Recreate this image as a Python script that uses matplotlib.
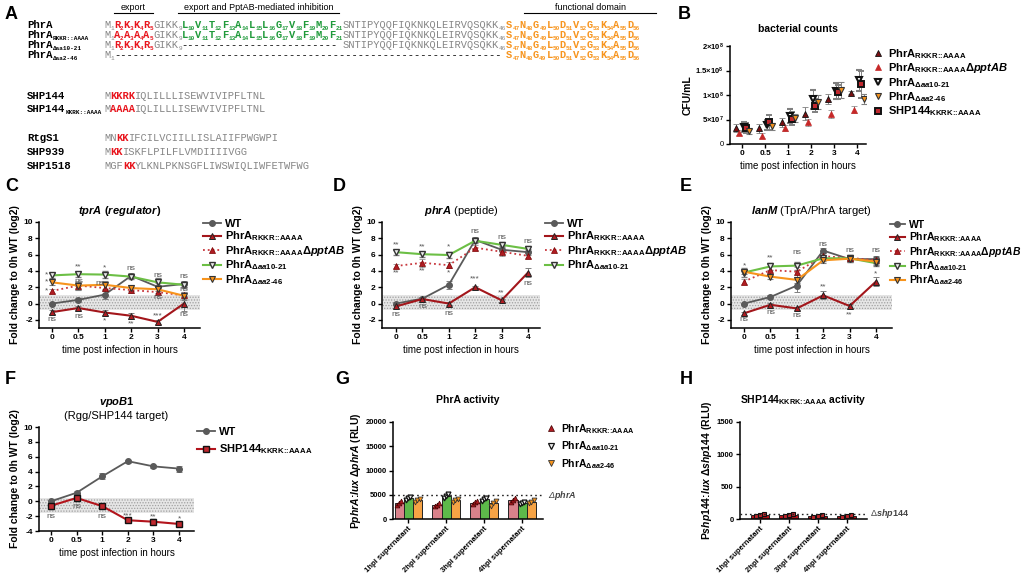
import numpy as np
import matplotlib.pyplot as plt
from matplotlib.lines import Line2D

plt.rcParams['font.family'] = ['Liberation Sans', 'DejaVu Sans']
plt.rcParams['mathtext.fontset'] = 'custom'
plt.rcParams['mathtext.rm'] = 'Liberation Sans:bold'
plt.rcParams['mathtext.it'] = 'Liberation Sans:italic:bold'
plt.rcParams['mathtext.bf'] = 'Liberation Sans:bold'
plt.rcParams['hatch.linewidth'] = 0.6

W, H = 1022, 576

# ---------------- data ----------------
# panel A sequences
phrA_export = 'RKKR'
phrA_export_mut = 'AAAA'
phrA_inhib = 'LVTFALLGVFMF'
phrA_mid = 'SNTIPYQQFIQKNKQLEIRVQSQKK'
phrA_func = 'SNGLDVGKAD'
shp_names = ['SHP144', 'SHP144', 'RtgS1', 'SHP939', 'SHP1518']
shp_subs = ['', 'KKRK::AAAA', '', '', '']
shp_pre = ['M', 'M', 'MN', 'M', 'MGF']
shp_motif = ['KKRK', 'AAAA', 'KK', 'KK', 'KK']
shp_rest = ['IQLILLLISEWVIVIPFLTNL', 'IQLILLLISEWVIVIPFLTNL',
            'IFCILVCIILLISLAIIFPWGWPI', 'ISKFLPILFLVMDIIIIVGG',
            'YLKNLPKNSGFLIWSWIQLIWFETWFWG']

times = ['0', '0.5', '1', '2', '3', '4']

# B bacterial counts (CFU/mL)
cfu_rkkr = [3.2e7, 3.2e7, 4.4e7, 6.2e7, 9.2e7, 1.05e8]
cfu_ppt = [2.3e7, 1.7e7, 3.2e7, 4.4e7, 6.1e7, 7.0e7]
cfu_d1021 = [3.4e7, 3.9e7, 5.7e7, 9.1e7, 1.08e8, 1.3e8]
cfu_d246 = [2.6e7, 3.6e7, 5.3e7, 8.6e7, 1.1e8, 9.2e7]
cfu_shp = [3.2e7, 4.4e7, 5.2e7, 7.8e7, 1.06e8, 1.22e8]
cfu_rkkr_err = [0.8e7, 0.9e7, 0.9e7, 1.3e7, 1.0e7, 0.3e7]
cfu_ppt_err = [0.5e7, 0.5e7, 0.6e7, 0.8e7, 0.8e7, 0.7e7]
cfu_d1021_err = [1.0e7, 1.1e7, 1.5e7, 1.9e7, 1.6e7, 2.2e7]
cfu_d246_err = [0.5e7, 0.7e7, 0.8e7, 1.5e7, 1.7e7, 1.0e7]
cfu_shp_err = [1.0e7, 1.6e7, 1.3e7, 1.3e7, 1.4e7, 2.8e7]

# C tprA
tprA_wt = [0.0, 0.45, 1.1, 3.4, 2.05, 2.4]
tprA_rkkr = [-1.05, -0.55, -1.1, -1.5, -2.25, 0.0]
tprA_ppt = [1.55, 2.2, 1.9, 1.65, 1.4, 1.0]
tprA_d1021 = [3.45, 3.6, 3.55, 3.3, 2.6, 2.3]
tprA_d246 = [2.6, 2.2, 2.3, 1.9, 1.75, 0.95]
tprA_wt_err = [0.1, 0.2, 0.6, 0.3, 0.5, 0.4]
tprA_rkkr_err = [0.2, 0.2, 0.3, 0.4, 0.2, 0.9]
tprA_ppt_err = [0.2, 0.6, 0.4, 0.4, 0.4, 0.4]
tprA_d1021_err = [0.3, 0.3, 0.4, 0.3, 0.5, 0.4]
tprA_d246_err = [0.3, 0.5, 0.5, 0.4, 0.5, 0.5]
tprA_marks = [(-0.22, 3.55, '*'), (-0.22, 2.6, '*'), (-0.22, 1.55, '*'), (0, -2.0, 'ns'),
              (1, 4.45, '**'), (1, 2.75, 'ns'), (1, -1.6, 'ns'),
              (2, 4.35, '*'), (1.8, 2.4, 'ns'), (2, -2.1, '*'),
              (3, 4.25, 'ns'), (3, -2.55, '**'),
              (4, 3.45, 'ns'), (4, 0.7, 'ns'), (4, -1.5, '***'),
              (5, 3.3, 'ns'), (5, 1.7, 'ns'), (5, -1.35, 'ns')]

# D phrA
phrA_wt = [0.0, 0.6, 2.3, 7.8, 6.6, 6.3]
phrA_rkkr = [-0.35, 0.55, 0.0, 2.0, 0.4, 3.8]
phrA_ppt = [4.6, 5.0, 4.7, 6.85, 6.35, 5.85]
phrA_d1021 = [6.3, 6.05, 5.95, 7.7, 7.2, 6.7]
phrA_wt_err = [0.2, 0.2, 0.5, 0.3, 0.5, 0.4]
phrA_rkkr_err = [0.2, 0.3, 0.2, 0.2, 0.2, 0.6]
phrA_ppt_err = [0.3, 0.5, 0.4, 0.3, 0.5, 0.3]
phrA_d1021_err = [0.3, 0.3, 0.4, 0.3, 0.3, 0.3]
phrA_marks = [(0, 7.2, '**'), (0, 3.7, '**'), (0, -1.3, 'ns'),
              (1, 7.0, '**'), (1, 4.0, '**'), (1, -0.35, 'ns'),
              (2, 6.95, '*'), (2, 3.75, '*'), (2, -1.2, 'ns'),
              (3, 8.8, 'ns'), (3, 3.0, '***'),
              (4, 8.15, 'ns'), (4, 1.3, '**'),
              (5, 7.65, 'ns'), (5, 2.5, 'ns')]

# E lanM
lanM_wt = [0.0, 0.8, 2.2, 6.5, 5.45, 5.45]
lanM_rkkr = [-1.2, -0.15, -0.6, 1.0, -0.3, 2.7]
lanM_ppt = [2.7, 4.1, 3.9, 5.8, 5.6, 5.3]
lanM_d1021 = [3.8, 4.55, 4.65, 5.55, 5.55, 4.95]
lanM_d246 = [3.9, 3.3, 2.9, 5.3, 5.5, 5.15]
lanM_wt_err = [0.1, 0.2, 0.8, 0.3, 0.4, 0.4]
lanM_rkkr_err = [0.2, 0.2, 0.2, 0.5, 0.2, 0.6]
lanM_ppt_err = [0.3, 0.5, 0.6, 0.4, 0.4, 0.4]
lanM_d1021_err = [0.5, 0.4, 0.5, 0.3, 0.4, 0.4]
lanM_d246_err = [0.3, 0.3, 0.4, 0.3, 0.4, 0.4]
lanM_marks = [(0, 4.65, '*'), (0, -2.0, 'ns'),
              (1, 5.6, '**'), (1, -1.15, 'ns'),
              (2, 6.3, 'ns'), (2, -1.5, 'ns'),
              (3, 7.3, 'ns'), (3, 2.0, '**'),
              (4, 6.5, 'ns'), (4, -1.35, '**'),
              (5, 6.45, 'ns'), (5, 3.6, '*')]

# F vpoB1
vpoB1_wt = [0.0, 1.15, 3.35, 5.4, 4.7, 4.4]
vpoB1_shp = [-0.6, 0.45, -0.65, -2.55, -2.75, -3.05]
vpoB1_wt_err = [0.2, 0.2, 0.4, 0.2, 0.2, 0.4]
vpoB1_shp_err = [0.4, 0.4, 0.2, 0.3, 0.3, 0.3]
vpoB1_marks = [(0, -2.0, 'ns'), (1, -0.75, 'ns'), (2, -2.0, 'ns'),
               (3, -1.9, '***'), (4, -2.15, '**'), (5, -2.4, '*')]

# G PhrA activity (RLU)
sup_labels = ['1hpi supernatant', '2hpi supernatant', '3hpi supernatant', '4hpi supernatant']
act_rkkr = [3300, 2900, 3400, 3900]
act_d1021 = [4300, 4700, 4100, 3300]
act_d246 = [3900, 3900, 3300, 3600]
act_rkkr_pts = [[2900, 3400, 3800], [2600, 2900, 3300], [3000, 3500, 3700], [3600, 3900, 4300]]
act_d1021_pts = [[4000, 4400, 4600], [4400, 4800, 5100], [3800, 4200, 4400], [3100, 3300, 3500]]
act_d246_pts = [[3500, 4000, 4200], [3600, 3900, 4200], [2700, 3300, 3800], [3300, 3600, 3900]]
phrA_ctrl = 4900

# H SHP144 activity (RLU)
act_shp = [60, 60, 50, 50]
act_shp_pts = [[40, 60, 80], [45, 60, 75], [35, 50, 65], [35, 50, 65]]
shp_ctrl = 85

# ---------------- styles ----------------
sty_wt = dict(color='#5a5a5a', marker='o', ms=4, mfc='#5a5a5a', mec='#5a5a5a', lw=1.3)
sty_rkkr = dict(color='#a3161b', marker='^', ms=4.5, mfc='#b01c22', mec='#222222', mew=0.7, lw=1.5)
sty_ppt = dict(color='#c8373d', ls=':', marker='^', ms=4.5, mfc='#b01c22', mec='#7a0000', mew=0.5, lw=1.3)
sty_d1021 = dict(color='#6cbf45', marker='v', ms=5, mfc='#eeeeee', mec='#333333', mew=1.0, lw=1.5)
sty_d246 = dict(color='#f7941d', marker='v', ms=5, mfc='#f7941d', mec='#333333', mew=0.8, lw=1.5)
sty_shp = dict(color='#b3141c', marker='s', ms=4.5, mfc='#c0282e', mec='#111111', mew=1.0, lw=1.5)

lab_wt = 'WT'
lab_rkkr = 'PhrA$_{\\text{RKKR::AAAA}}$'
lab_ppt = 'PhrA$_{\\text{RKKR::AAAA}}\\mathit{\\Delta pptAB}$'
lab_d1021 = 'PhrA$_{\\mathit{\\Delta aa10}\\text{-}\\mathit{21}}$'
lab_d246 = 'PhrA$_{\\mathit{\\Delta aa2}\\text{-}\\mathit{46}}$'
lab_shp = 'SHP144$_{\\text{KKRK::AAAA}}$'

fig = plt.figure(figsize=(W / 100, H / 100), dpi=100)


def px_axes(l, t, r, b):
    return fig.add_axes([l / W, 1 - b / H, (r - l) / W, (b - t) / H])


def style_ax(ax):
    for s in ['top', 'right']:
        ax.spines[s].set_visible(False)
    for s in ['left', 'bottom']:
        ax.spines[s].set_linewidth(1.1)
    ax.tick_params(width=1.0, length=3, labelsize=6, pad=1.5)


def legend_at(ax, handles, labels, x, y, size=8, hl=1.6, sp=0.05):
    ax.legend(handles, labels, loc='upper left', bbox_to_anchor=(x / W, 1 - y / H),
              bbox_transform=fig.transFigure, frameon=False, prop={'weight': 'bold', 'size': size},
              handlelength=hl, handletextpad=0.4, labelspacing=sp, borderpad=0,
              borderaxespad=0)


def line_panel(box, tick0, step, series, band, ylim, yticks, marks, title):
    ax = px_axes(*box)
    l, r = box[0], box[2]
    ax.set_xlim((l - tick0) / step, (r - tick0) / step)
    ax.set_ylim(*ylim)
    ax.axhspan(band[0], band[1], facecolor='#e6e6e6', edgecolor='#a0a0a0', hatch='......',
               lw=0, zorder=0)
    x = np.arange(len(times))
    for vals, errs, sty in series:
        ax.errorbar(x, vals, yerr=errs, capsize=2, elinewidth=0.7, capthick=0.7,
                    ecolor='#808080', **sty)
    for xi, yi, s in marks:
        ax.text(xi, yi, s, ha='center', va='center', fontsize=6, color='#555555')
    style_ax(ax)
    ax.set_xticks(x, times, fontweight='bold', fontsize=6)
    ax.set_yticks(yticks, [str(v) for v in yticks], fontweight='bold', fontsize=6)
    ax.set_ylabel('Fold change to 0h WT (log2)', fontsize=7.5, fontweight='bold', labelpad=2)
    ax.set_xlabel('time post infection in hours', fontsize=7, labelpad=3)
    ax.set_title(title, fontsize=8, pad=6)
    return ax


# ---------------- panel A ----------------
axA = fig.add_axes([0, 0, 1, 1], zorder=-1)
axA.set_xlim(0, W)
axA.set_ylim(H, 0)
axA.axis('off')

SEQ_FS = 7.5
SUB_FS = 4.3
CW = 0.6 * SEQ_FS * 100 / 72
SW = 0.6 * SUB_FS * 100 / 72
GRAY = '#858585'
RED = '#e8141c'
GREEN = '#1f9a3a'
ORANGE = '#f7941d'
X0 = 104
XN = 27


def run(x, y, s, color, bold=False, fs=SEQ_FS, dy=0):
    axA.text(x, y + dy, s, fontsize=fs, color=color, family='Liberation Mono',
             fontweight='bold' if bold else 'normal', va='baseline', ha='left')
    return x + len(s) * 0.6 * fs * 100 / 72


def residues(x, y, s, start, color, bold=True):
    for i, ch in enumerate(s):
        x = run(x, y, ch, color, bold)
        x = run(x, y, str(start + i), color, bold, SUB_FS, dy=2.5)
    return x


def name(y, n, sub=''):
    x = run(XN, y, n, 'black', True, 7.7)
    if sub:
        run(x, y, sub, 'black', True, SUB_FS, dy=2.5)


def block_width(s, start):
    return sum(CW + len(str(start + i)) * SW for i in range(len(s)))


def dashes(x, y, w):
    run(x, y, '-' * int(w / CW), 'black')
    return x + w


rows_y = [28, 38, 48, 58]
name(rows_y[0], 'PhrA')
name(rows_y[1], 'PhrA', 'RKKR::AAAA')
name(rows_y[2], 'PhrA', '\u0394aa10-21')
name(rows_y[3], 'PhrA', '\u0394aa2-46')

marks_x = {}
for k, y in enumerate(rows_y):
    x = residues(X0, y, 'M', 1, GRAY, False)
    if k == 3:
        w = (block_width(phrA_export, 2) + 4 * CW + SW + block_width(phrA_inhib, 10)
             + len(phrA_mid) * CW + 2 * SW)
        x = dashes(x, y, w)
    else:
        marks_x['exp0'] = x
        x = residues(x, y, phrA_export_mut if k == 1 else phrA_export, 2, RED)
        marks_x['exp1'] = x
        x = run(x, y, 'GIKK', GRAY)
        x = run(x, y, '9', GRAY, False, SUB_FS, dy=2.5)
        marks_x['inh0'] = x
        if k == 2:
            x = dashes(x, y, block_width(phrA_inhib, 10))
        else:
            x = residues(x, y, phrA_inhib, 10, GREEN)
        marks_x['inh1'] = x
        x = run(x, y, phrA_mid, GRAY)
        x = run(x, y, '46', GRAY, False, SUB_FS, dy=2.5)
    marks_x['fun0'] = x
    x = residues(x, y, phrA_func, 47, ORANGE)
    marks_x['fun1'] = x

hdr_y = 13
for a, b, t, d0, d1 in [('exp0', 'exp1', 'export', 0, 0),
                        ('inh0', 'inh1', 'export and PptAB-mediated inhibition', -4, -4),
                        ('fun0', 'fun1', 'functional domain', 18, 16)]:
    x0, x1 = marks_x[a] + d0, marks_x[b] + d1
    axA.plot([x0, x1], [hdr_y, hdr_y], color='black', lw=0.8)
    axA.text((x0 + x1) / 2, hdr_y - 1.5, t, ha='center', va='bottom', fontsize=6.5)

shp_y = [99, 112, 141, 155, 169]
for y, n, sub, pre, motif, rest in zip(shp_y, shp_names, shp_subs, shp_pre, shp_motif, shp_rest):
    name(y, n, sub)
    x = run(X0, y, pre, GRAY)
    x = run(x, y, motif, RED, True)
    run(x, y, rest, GRAY)

# panel letters
for t, x, y in [('A', 5, 19), ('B', 678, 19), ('C', 5, 191), ('D', 333, 191), ('E', 680, 191),
                ('F', 5, 384), ('G', 335, 384), ('H', 680, 384)]:
    axA.text(x, y, t, fontsize=13, fontweight='bold', va='baseline')

# ---------------- panel B ----------------
bl, br = 730, 866
axB = px_axes(bl, 46, br, 144)
tick0, step = 742, 23
axB.set_xlim((bl - tick0) / step, (br - tick0) / step)
axB.set_ylim(0, 2e8)
xb = np.arange(len(times))
b_series = [(cfu_rkkr, cfu_rkkr_err, -0.25, dict(marker='^', ms=4.5, mfc='#7a0f12', mec='#111111', mew=0.6)),
            (cfu_ppt, cfu_ppt_err, -0.12, dict(marker='^', ms=5, mfc='#c62828', mec='#c62828', mew=0.5)),
            (cfu_d1021, cfu_d1021_err, 0.08, dict(marker='v', ms=5, mfc='white', mec='#111111', mew=1.5)),
            (cfu_shp, cfu_shp_err, 0.18, dict(marker='s', ms=5, mfc='#c0282e', mec='#111111', mew=1.4)),
            (cfu_d246, cfu_d246_err, 0.3, dict(marker='v', ms=5, mfc='#f7941d', mec='#333333', mew=0.8))]
b_handles = {}
for vals, errs, off, sty in b_series:
    axB.errorbar(xb + off, vals, yerr=errs, ls='none', capsize=2, elinewidth=0.7, capthick=0.7,
                 ecolor='#808080', **sty)
    b_handles[id(vals)] = Line2D([], [], ls='none', **sty)
style_ax(axB)
axB.set_xticks(xb, times, fontweight='bold', fontsize=6)
axB.set_yticks([0, 5e7, 1e8, 1.5e8, 2e8],
               ['0', '$5{\\times}10^{7}$', '$1{\\times}10^{8}$', '$1.5{\\times}10^{8}$', '$2{\\times}10^{8}$'],
               fontsize=5.5)
axB.set_ylabel('CFU/mL', fontsize=7.5, fontweight='bold', labelpad=2)
axB.set_xlabel('time post infection in hours', fontsize=7, labelpad=3)
axB.set_title('bacterial counts', fontsize=7.5, fontweight='bold', pad=10)
legend_at(axB, [b_handles[id(v)] for v in [cfu_rkkr, cfu_ppt, cfu_d1021, cfu_d246, cfu_shp]],
          [lab_rkkr, lab_ppt, lab_d1021, lab_d246, lab_shp], 872, 47, hl=1.0)

# ---------------- panels C, D, E ----------------
axC = line_panel((39, 222, 200, 328), 52, 26.4,
                 [(tprA_wt, tprA_wt_err, sty_wt), (tprA_rkkr, tprA_rkkr_err, sty_rkkr),
                  (tprA_ppt, tprA_ppt_err, sty_ppt), (tprA_d1021, tprA_d1021_err, sty_d1021),
                  (tprA_d246, tprA_d246_err, sty_d246)],
                 (-0.85, 1.05), (-3, 10), [-2, 0, 2, 4, 6, 8, 10], tprA_marks,
                 '$\\mathit{tprA\\ (regulator)}$')
legend_at(axC, [Line2D([], [], **s) for s in [sty_wt, sty_rkkr, sty_ppt, sty_d1021, sty_d246]],
          [lab_wt, lab_rkkr, lab_ppt, lab_d1021, lab_d246], 203, 219)

axD = line_panel((382, 222, 540, 328), 396, 26.4,
                 [(phrA_wt, phrA_wt_err, sty_wt), (phrA_rkkr, phrA_rkkr_err, sty_rkkr),
                  (phrA_ppt, phrA_ppt_err, sty_ppt), (phrA_d1021, phrA_d1021_err, sty_d1021)],
                 (-0.85, 1.05), (-3, 10), [-2, 0, 2, 4, 6, 8, 10], phrA_marks,
                 '$\\mathit{phrA}$ (peptide)')
legend_at(axD, [Line2D([], [], **s) for s in [sty_wt, sty_rkkr, sty_ppt, sty_d1021]],
          [lab_wt, lab_rkkr, lab_ppt, lab_d1021], 545, 219)

axE = line_panel((731, 222, 892, 328), 744, 26.4,
                 [(lanM_wt, lanM_wt_err, sty_wt), (lanM_rkkr, lanM_rkkr_err, sty_rkkr),
                  (lanM_ppt, lanM_ppt_err, sty_ppt), (lanM_d1021, lanM_d1021_err, sty_d1021),
                  (lanM_d246, lanM_d246_err, sty_d246)],
                 (-0.85, 1.05), (-3, 10), [-2, 0, 2, 4, 6, 8, 10], lanM_marks,
                 '$\\mathit{lanM}$ (TprA/PhrA target)')
legend_at(axE, [Line2D([], [], **s) for s in [sty_wt, sty_rkkr, sty_ppt, sty_d1021, sty_d246]],
          [lab_wt, lab_rkkr, lab_ppt, lab_d1021, lab_d246], 890, 220, size=7.5, hl=1.4)

# ---------------- panel F ----------------
axF = line_panel((39, 427, 194, 531), 51, 25.6,
                 [(vpoB1_wt, vpoB1_wt_err, sty_wt), (vpoB1_shp, vpoB1_shp_err, sty_shp)],
                 (-1.6, 0.4), (-4, 10), [-4, -2, 0, 2, 4, 6, 8, 10], vpoB1_marks,
                 '$\\mathit{vpoB1}$\n(Rgg/SHP144 target)')
legend_at(axF, [Line2D([], [], **s) for s in [sty_wt, sty_shp]], [lab_wt, lab_shp], 197, 427,
          sp=0.5)

# ---------------- panel G ----------------
axG = px_axes(393, 422, 543, 519)
xg = np.arange(len(sup_labels))
axG.set_xlim(-0.4, 3.55)
axG.set_ylim(0, 20000)
bw = 0.24
g_sets = [(act_rkkr, act_rkkr_pts, -bw, '#d9828b', dict(marker='^', ms=3.5, mfc='#b01c22', mec='#400000', mew=0.5)),
          (act_d1021, act_d1021_pts, 0, '#5db94a', dict(marker='v', ms=3.5, mfc='#eeeeee', mec='#111111', mew=0.9)),
          (act_d246, act_d246_pts, bw, '#f6a345', dict(marker='v', ms=3.5, mfc='#f7941d', mec='#333333', mew=0.6))]
g_handles = []
for vals, pts, off, col, msty in g_sets:
    axG.bar(xg + off, vals, width=bw, color=col, edgecolor='#222222', lw=0.7, zorder=2)
    for i, p in enumerate(pts):
        axG.plot(xg[i] + off + np.array([-0.06, 0, 0.06]), p, ls='none', zorder=3, **msty)
    g_handles.append(Line2D([], [], ls='none', **dict(msty, ms=5)))
axG.axhline(phrA_ctrl, xmax=1.0, color='#222222', lw=1.0, ls=(0, (1.2, 2.2)), zorder=4)
axG.text(1.03, phrA_ctrl, '\u0394$\\it{phrA}$', transform=axG.get_yaxis_transform(), va='center',
         fontsize=6.5, color='#444444', style='italic')
style_ax(axG)
axG.set_xticks(xg, sup_labels, rotation=45, ha='right', rotation_mode='anchor', fontsize=5.5,
               fontweight='bold')
axG.set_yticks([0, 5000, 10000, 15000, 20000], ['0', '5000', '10000', '15000', '20000'],
               fontsize=5.5, fontweight='bold')
axG.set_ylabel('P$\\mathit{phrA}$:$\\mathit{lux}$ $\\mathit{\\Delta phrA}$ (RLU)', fontsize=7.5,
               fontweight='bold', labelpad=2)
axG.set_title('PhrA activity', fontsize=7.5, fontweight='bold', pad=14)
legend_at(axG, g_handles, [lab_rkkr, lab_d1021, lab_d246], 546, 422, size=7.5, hl=1.0, sp=0.35)

# ---------------- panel H ----------------
axH = px_axes(740, 422, 867, 519)
axH.set_xlim(-0.69, 3.7)
axH.set_ylim(0, 1500)
axH.bar(xg, act_shp, width=0.65, color='#b3141c', edgecolor='#222222', lw=0.7, zorder=2)
for i, p in enumerate(act_shp_pts):
    axH.plot(xg[i] + np.array([-0.15, 0, 0.15]), p, ls='none', marker='s', ms=3, mfc='#c0282e',
             mec='#111111', mew=0.8, zorder=3)
axH.axhline(shp_ctrl, color='#222222', lw=1.0, ls=(0, (1.2, 2.2)), zorder=4)
axH.text(1.02, shp_ctrl, '\u0394$\\it{shp144}$', transform=axH.get_yaxis_transform(), va='center',
         fontsize=6.5, color='#444444')
style_ax(axH)
axH.set_xticks(xg, sup_labels, rotation=45, ha='right', rotation_mode='anchor', fontsize=5.5,
               fontweight='bold')
axH.set_yticks([0, 500, 1000, 1500], ['0', '500', '1000', '1500'], fontsize=5.5, fontweight='bold')
axH.set_ylabel('P$\\mathit{shp144}$:$\\mathit{lux}$ $\\mathit{\\Delta shp144}$ (RLU)', fontsize=7.5,
               fontweight='bold', labelpad=2)
axH.set_title(lab_shp + ' activity', fontsize=7.5, fontweight='bold', pad=14)

fig.savefig('out.png', dpi=100)
